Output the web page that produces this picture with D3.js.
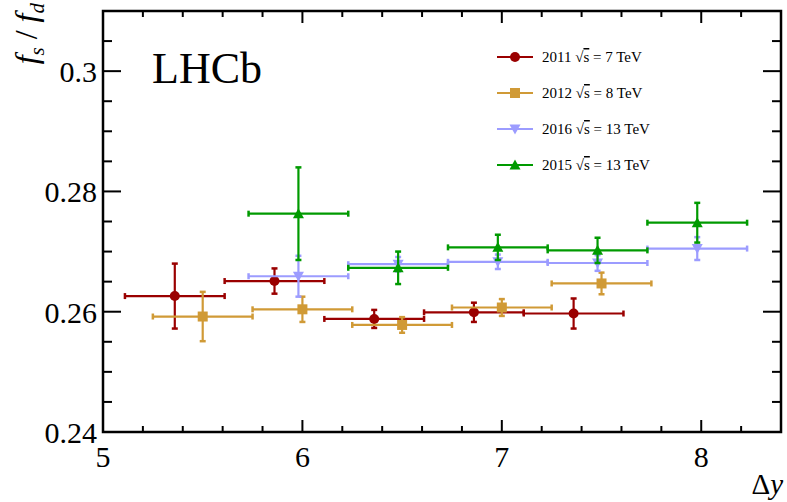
<!DOCTYPE html>
<html>
<head>
<meta charset="utf-8">
<title>fs/fd vs delta y</title>
<script src="https://d3js.org/d3.v7.min.js"></script>
<style>
    body { margin: 0; background: #fff; }
    .frame { fill: none; stroke: #000; stroke-width: 2.5px; }
    .tick-line { stroke: #000; stroke-width: 2px; }
</style>
</head>
<body>
<div id="chart"></div>
<script>

    // bin centres (delta y) and half-width of each bin
    var xErr = 0.25;

    var x2011 = [5.36, 5.86, 6.36, 6.86, 7.36];
    var y2011 = [0.2626, 0.2651, 0.2588, 0.2599, 0.2597];
    var e2011 = [0.0054, 0.0021, 0.0015, 0.0016, 0.0025];

    var x2012 = [5.50, 6.00, 6.50, 7.00, 7.50];
    var y2012 = [0.2592, 0.2604, 0.2578, 0.2607, 0.2647];
    var e2012 = [0.0041, 0.0021, 0.0013, 0.0014, 0.0018];

    var x2016 = [5.98, 6.48, 6.98, 7.48, 7.98];
    var y2016 = [0.2659, 0.2679, 0.2683, 0.2681, 0.2705];
    var e2016 = [0.0034, 0.0012, 0.0012, 0.0013, 0.0019];

    var x2015 = [5.98, 6.48, 6.98, 7.48, 7.98];
    var y2015 = [0.2763, 0.2673, 0.2707, 0.2702, 0.2748];
    var e2015 = [0.0077, 0.0027, 0.0021, 0.0021, 0.0033];

    var xMajor = [5, 6, 7, 8];
    var yMajor = [0.24, 0.26, 0.28, 0.30];
    var yMajorLabels = ["0.24", "0.26", "0.28", "0.3"];

    var series = [
        { label: "2011", energy: "7 TeV",  x: x2011, y: y2011, e: e2011, color: "#9a0000", shape: "circle" },
        { label: "2012", energy: "8 TeV",  x: x2012, y: y2012, e: e2012, color: "#d09a36", shape: "square" },
        { label: "2016", energy: "13 TeV", x: x2016, y: y2016, e: e2016, color: "#9c9cff", shape: "down" },
        { label: "2015", energy: "13 TeV", x: x2015, y: y2015, e: e2015, color: "#009a00", shape: "up" }
    ];

    var serif = "'Liberation Serif', 'Times New Roman', Times, serif";
    var width = 787, height = 502;

    var x = d3.scaleLinear().domain([5, 8.4]).range([103, 781]);
    var y = d3.scaleLinear().domain([0.24, 0.31]).range([432, 11]);

    var svg = d3.select("#chart").append("svg")
        .attr("width", width)
        .attr("height", height)
        .attr("font-family", serif);

    // minor tick positions
    var xMinor = d3.range(5, 8.401, 0.2).map(function(d) { return +d.toFixed(2); })
        .filter(function(d) { return xMajor.indexOf(d) < 0; });
    var yMinor = d3.range(0.24, 0.3101, 0.005).map(function(d) { return +d.toFixed(3); })
        .filter(function(d) { return yMajor.indexOf(d) < 0; });

    var ticks = svg.append("g");

    function xTicks(vals, len) {
        vals.forEach(function(v) {
            ticks.append("line").attr("class", "tick-line")
                .attr("x1", x(v)).attr("x2", x(v))
                .attr("y1", y.range()[0]).attr("y2", y.range()[0] - len);
            ticks.append("line").attr("class", "tick-line")
                .attr("x1", x(v)).attr("x2", x(v))
                .attr("y1", y.range()[1]).attr("y2", y.range()[1] + len);
        });
    }
    function yTicks(vals, len) {
        vals.forEach(function(v) {
            ticks.append("line").attr("class", "tick-line")
                .attr("y1", y(v)).attr("y2", y(v))
                .attr("x1", x.range()[0]).attr("x2", x.range()[0] + len);
            ticks.append("line").attr("class", "tick-line")
                .attr("y1", y(v)).attr("y2", y(v))
                .attr("x1", x.range()[1]).attr("x2", x.range()[1] - len);
        });
    }
    xTicks(xMajor, 12);
    xTicks(xMinor, 6);
    yTicks(yMajor, 18);
    yTicks(yMinor, 9);

    svg.append("rect").attr("class", "frame")
        .attr("x", x.range()[0]).attr("y", y.range()[1])
        .attr("width", x.range()[1] - x.range()[0])
        .attr("height", y.range()[0] - y.range()[1]);

    // tick labels
    svg.selectAll(".xlab").data(xMajor).enter().append("text")
        .attr("x", function(d) { return x(d); })
        .attr("y", 467)
        .attr("text-anchor", "middle")
        .style("font-family", serif)
        .style("font-size", "30px")
        .text(function(d) { return d; });

    svg.selectAll(".ylab").data(yMajor).enter().append("text")
        .attr("x", 97)
        .attr("y", function(d) { return y(d) + 11; })
        .attr("text-anchor", "end")
        .style("font-family", serif)
        .style("font-size", "30px")
        .text(function(d, i) { return yMajorLabels[i]; });

    // axis titles
    var xt = svg.append("text")
        .attr("x", 783).attr("y", 494)
        .attr("text-anchor", "end")
        .style("font-family", serif)
        .style("font-size", "29px");
    xt.append("tspan").text("\u0394");
    xt.append("tspan").style("font-style", "italic").text("y");

    var yt = svg.append("text")
        .attr("transform", "translate(37,3) rotate(-90)")
        .attr("text-anchor", "end")
        .style("font-family", serif)
        .style("font-size", "32px");
    yt.append("tspan").style("font-style", "italic").text("f");
    yt.append("tspan").attr("dy", 7).style("font-size", "21px").style("font-style", "italic").text("s");
    yt.append("tspan").attr("dy", -7).text(" / ");
    yt.append("tspan").style("font-style", "italic").text("f");
    yt.append("tspan").attr("dy", 7).style("font-size", "21px").style("font-style", "italic").text("d");

    svg.append("text")
        .attr("x", 152).attr("y", 83)
        .style("font-family", serif)
        .style("font-size", "44px")
        .text("LHCb");

    // marker drawing
    function marker(g, shape, cx, cy, color) {
        if (shape === "circle") {
            g.append("circle").attr("cx", cx).attr("cy", cy).attr("r", 5).attr("fill", color);
        } else if (shape === "square") {
            g.append("rect").attr("x", cx - 5).attr("y", cy - 5)
                .attr("width", 10).attr("height", 10).attr("fill", color);
        } else {
            var s = shape === "up" ? -1 : 1;
            g.append("path")
                .attr("d", "M" + (cx - 5.5) + "," + (cy - s * 4.5) +
                           "L" + (cx + 5.5) + "," + (cy - s * 4.5) +
                           "L" + cx + "," + (cy + s * 5.5) + "Z")
                .attr("fill", color);
        }
    }

    var plot = svg.append("g");

    series.forEach(function(s) {
        var g = plot.append("g");
        s.x.forEach(function(xv, i) {
            var cx = x(xv), cy = y(s.y[i]);
            var x0 = x(xv - xErr), x1 = x(xv + xErr);
            var y0 = y(s.y[i] - s.e[i]), y1 = y(s.y[i] + s.e[i]);
            g.append("line").attr("x1", x0).attr("x2", x1).attr("y1", cy).attr("y2", cy)
                .attr("stroke", s.color).attr("stroke-width", 2.2);
            g.append("line").attr("x1", cx).attr("x2", cx).attr("y1", y0).attr("y2", y1)
                .attr("stroke", s.color).attr("stroke-width", 2.2);
            // end caps
            [x0, x1].forEach(function(px) {
                g.append("line").attr("x1", px).attr("x2", px).attr("y1", cy - 3).attr("y2", cy + 3)
                    .attr("stroke", s.color).attr("stroke-width", 2.5);
            });
            [y0, y1].forEach(function(py) {
                g.append("line").attr("x1", cx - 3).attr("x2", cx + 3).attr("y1", py).attr("y2", py)
                    .attr("stroke", s.color).attr("stroke-width", 2.5);
            });
            marker(g, s.shape, cx, cy, s.color);
        });
    });

    // legend
    var legend = svg.append("g");
    var legendY = [57, 93, 129, 165];
    series.forEach(function(s, i) {
        var row = legend.append("g");
        row.append("line").attr("x1", 497).attr("x2", 533)
            .attr("y1", legendY[i]).attr("y2", legendY[i])
            .attr("stroke", s.color).attr("stroke-width", 2.2);
        marker(row, s.shape, 515, legendY[i], s.color);
        var t = row.append("text").attr("x", 542).attr("y", legendY[i] + 5)
            .style("font-family", serif)
            .style("font-size", "15px");
        t.append("tspan").text(s.label + " \u221A");
        t.append("tspan").style("text-decoration", "overline").text("s");
        t.append("tspan").text(" = " + s.energy);
    });

</script>
</body>
</html>
